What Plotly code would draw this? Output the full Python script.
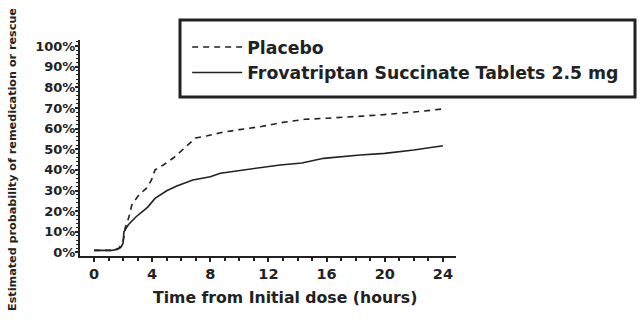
import plotly.graph_objects as go

# Data
placebo_hours = [0, 1.2, 1.7, 2.0, 2.15, 2.4, 2.6, 3.1, 3.6, 3.95, 4.2, 4.8, 5.5, 6.4, 7.0,
                 7.8, 8.7, 10.0, 11.5, 13.0, 14.5, 16.0, 17.5, 19.5, 22.0, 24.0]
placebo_pct = [1, 1, 2, 5, 12, 17, 23, 28, 31, 35, 40, 42.5, 46, 51.5, 55.5,
               56.5, 58, 59.5, 61, 63, 64.5, 65, 65.5, 66.5, 68, 69.5]

frova_hours = [0, 1.2, 1.6, 1.85, 2.0, 2.06, 2.35, 2.9, 3.7, 4.2, 5.0, 5.7, 6.8, 8.0, 8.7,
               10.0, 11.4, 12.8, 14.3, 15.8, 18.3, 20.0, 22.0, 24.0]
frova_pct = [1, 1, 1.5, 2.5, 4.5, 10, 13.3, 17.3, 22, 26.2, 29.9, 32.2, 35.1, 36.7, 38.4,
             39.6, 40.8, 42.4, 43.3, 45.6, 47.2, 48, 49.6, 51.7]

x_ticks = [0, 4, 8, 12, 16, 20, 24]
y_ticks = [0, 10, 20, 30, 40, 50, 60, 70, 80, 90, 100]
y_tick_labels = [f"{v}%" for v in y_ticks]

series_names = ["Placebo", "Frovatriptan Succinate Tablets 2.5 mg"]
x_title = "Time from Initial dose (hours)"
y_title = "Estimated probability of remedication or rescue"

INK = "#222222"
FONT = "DejaVu Sans, Verdana, sans-serif"

fig = go.Figure()
fig.add_trace(go.Scatter(
    x=placebo_hours, y=placebo_pct, mode="lines", name=series_names[0],
    line=dict(color=INK, width=1.6, dash="6px,5px"),
))
fig.add_trace(go.Scatter(
    x=frova_hours, y=frova_pct, mode="lines", name=series_names[1],
    line=dict(color=INK, width=1.6),
))

fig.update_layout(
    width=640, height=326,
    margin=dict(l=80, r=184, t=40, b=70),
    paper_bgcolor="white", plot_bgcolor="white",
    font=dict(family=FONT, color=INK),
    showlegend=True,
    legend=dict(
        x=0.285, y=1.05, xanchor="left", yanchor="top",
        bgcolor="rgba(0,0,0,0)", borderwidth=0,
        font=dict(size=17.3, family=FONT, color=INK, weight="bold"),
        itemwidth=50, tracegroupgap=0,
    ),
    xaxis=dict(
        range=[-0.96, 24.9], tickvals=x_ticks, showgrid=False, zeroline=False,
        showline=True, linecolor=INK, linewidth=2,
        ticks="outside", ticklen=4, tickwidth=2, tickcolor=INK,
        minor=dict(dtick=1, ticks="outside", ticklen=3, tickwidth=1.5, tickcolor=INK),
        tickfont=dict(size=14.5, family=FONT, color=INK, weight="bold"),
    ),
    yaxis=dict(
        range=[-1.7, 102.9], tickvals=y_ticks, ticktext=y_tick_labels,
        showgrid=False, zeroline=False,
        showline=True, linecolor=INK, linewidth=2,
        ticks="outside", ticklen=3, tickwidth=2, tickcolor=INK,
        minor=dict(dtick=2, ticks="outside", ticklen=2, tickwidth=1.2, tickcolor=INK),
        tickfont=dict(size=13, family=FONT, color=INK, weight="bold"),
        ticklabelstandoff=-3,
    ),
    shapes=[dict(
        type="rect", xref="paper", yref="paper",
        x0=(180 - 80) / 376, x1=(635 - 80) / 376,
        y0=(256 - 97) / 216, y1=(256 - 20) / 216,
        line=dict(color=INK, width=3), fillcolor="rgba(0,0,0,0)", layer="above",
    )],
    annotations=[
        dict(
            text=y_title,
            xref="paper", yref="paper", x=(12 - 80) / 376, y=(256 - 160) / 216,
            xanchor="center", yanchor="middle", textangle=-90, showarrow=False,
            font=dict(size=11.2, family=FONT, color=INK, weight="bold"),
        ),
        dict(
            text=x_title,
            xref="paper", yref="paper", x=(285 - 80) / 376, y=(256 - 297) / 216,
            xanchor="center", yanchor="middle", showarrow=False,
            font=dict(size=15.7, family=FONT, color=INK, weight="bold"),
        ),
    ],
)

fig.write_html("out.html")
